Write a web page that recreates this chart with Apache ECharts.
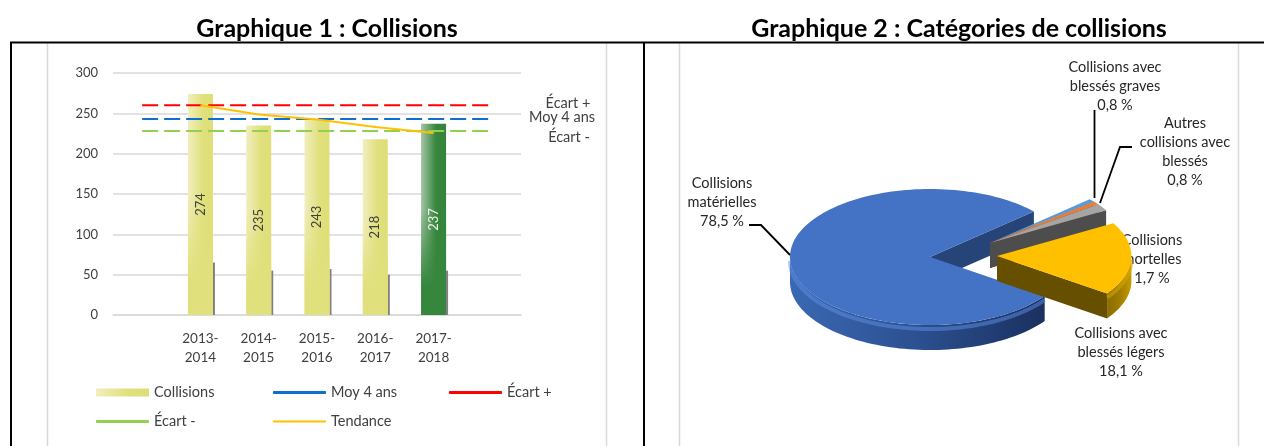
<!DOCTYPE html>
<html>
<head>
<meta charset="utf-8">
<title>Collisions</title>
<style>html,body{margin:0;padding:0;background:#fff}#chart{width:1264px;height:446px}</style>
<script src="https://cdn.jsdelivr.net/npm/echarts@6/dist/echarts.min.js"></script>
</head>
<body>
<div id="chart"></div>
<script>
// graphique 1
var years = ['', '2013-\n2014', '2014-\n2015', '2015-\n2016', '2016-\n2017', '2017-\n2018', ''];
var collisions = [null, 274, 235, 243, 218, 237, null];
var barShadow = [null, 65, 55, 57, 50, 55, null];
var moy4ans = [243, 243, 243, 243, 243, 243, 243];
var ecartPlus = [260, 260, 260, 260, 260, 260, 260];
var ecartMoins = [228, 228, 228, 228, 228, 228, 228];
var tendance = [null, 260, 248.5, 242.3, 233, 225.7, null];
var yTicks = { min: 0, max: 300, interval: 50 };

// graphique 2
var pieNames = ['Collisions\nmatérielles', 'Collisions avec\nblessés graves', 'Autres\ncollisions avec\nblessés', 'Collisions\nmortelles', 'Collisions avec\nblessés légers'];
var pieValues = [78.5, 0.8, 0.8, 1.7, 18.1];

var FONT = 'Lato';
var TXT = '#404040';

// styles of the 3d pie, same order as pieNames
var pieTop = ['#4472c4', '#5b9bd5', '#ed7d31', '#a5a5a5', '#ffc000'];
var pieInner = ['#264478', '#255e91', '#843c0c', '#4d4d4d', '#665000'];
var pieWall = [
	['#3a68b4', '#2c5090', '#1a3060'],
	['#255e91', '#255e91', '#255e91'],
	['#843c0c', '#843c0c', '#843c0c'],
	['#4d4d4d', '#4d4d4d', '#4d4d4d'],
	['#8a6c00', '#a07d00', '#c89a00']
];
var pieRim = ['#5f8fe6', null, null, null, '#e0aa00'];
var pieOffset = [[0, 0], [60, -14], [60, -14], [60, -14], [67, -1]];
var pieScale = [1, 0.96, 0.96, 0.96, 0.96];
var pieLabelPos = [[722, 174], [1115, 58], [1185, 114], [1152, 231], [1121, 324]];
var PIE = { cx: 930, cy: 257, rx: 140, ry: 68, depth: 25, start: -35 };

var total = pieValues.reduce(function (a, b) { return a + b; }, 0);

function arc(cx, cy, rx, ry, t0, t1) {
	var pts = [], n = Math.max(2, Math.ceil(Math.abs(t0 - t1) / 2));
	for (var i = 0; i <= n; i++) {
		var t = (t0 + (t1 - t0) * i / n) * Math.PI / 180;
		pts.push([cx + rx * Math.cos(t), cy - ry * Math.sin(t)]);
	}
	return pts;
}

function renderPie(params, api) {
	var i = params.dataIndex;
	var before = 0;
	for (var k = 0; k < i; k++) before += pieValues[k];
	var t0 = PIE.start - before / total * 360;
	var t1 = t0 - api.value(0) / total * 360;
	if (t0 < -180 && t1 < -180) { t0 += 360; t1 += 360; }
	var cx = PIE.cx + pieOffset[i][0], cy = PIE.cy + pieOffset[i][1];
	var rx = PIE.rx * pieScale[i], ry = PIE.ry * pieScale[i], d = PIE.depth;
	var kids = [];

	// inner wall on the clockwise end of the slice
	var e = arc(cx, cy, rx, ry, t1, t1)[0];
	kids.push({ type: 'polygon', shape: { points: [[cx, cy], e, [e[0], e[1] + d], [cx, cy + d]] }, style: { fill: pieInner[i] } });

	// outer wall, only the part turned to the viewer
	var w0 = Math.min(t0, 0), w1 = Math.max(t1, -180);
	if (w0 > w1) {
		var up = arc(cx, cy, rx, ry, w0, w1);
		var low = arc(cx, cy + d, rx, ry, w1, w0);
		var c = pieWall[i];
		kids.push({
			type: 'polygon', shape: { points: up.concat(low) },
			style: { fill: new echarts.graphic.LinearGradient(0, 0, 1, 0, [
				{ offset: 0, color: c[0] }, { offset: 0.5, color: c[1] }, { offset: 1, color: c[2] }
			]) }
		});
		if (pieRim[i]) {
			kids.push({ type: 'polyline', shape: { points: arc(cx, cy + 4, rx, ry, w0, w1) }, style: { fill: null, stroke: pieRim[i], lineWidth: 4, opacity: 0.5 } });
		}
	}

	// top face
	kids.push({ type: 'polygon', shape: { points: [[cx, cy]].concat(arc(cx, cy, rx, ry, t0, t1)) }, style: { fill: pieTop[i] } });

	// label
	kids.push({
		type: 'text',
		style: {
			text: pieNames[i] + '\n' + api.value(0).toFixed(1).replace('.', ',') + ' %',
			x: pieLabelPos[i][0], y: pieLabelPos[i][1],
			align: 'center', verticalAlign: 'top',
			fontFamily: FONT, fontSize: 14.5, lineHeight: 19, fill: '#262626'
		}
	});
	return { type: 'group', children: kids };
}

function renderBarShadow(params, api) {
	var top = api.coord([api.value(0), api.value(1)]);
	var base = api.coord([api.value(0), 0]);
	return { type: 'rect', shape: { x: top[0] + 12.5, y: top[1], width: 2, height: base[1] - top[1] }, style: { fill: '#7f7f7f' } };
}

function hLine(x1, y1, x2, y2, color, w) {
	return { type: 'line', silent: true, shape: { x1: x1, y1: y1, x2: x2, y2: y2 }, style: { stroke: color, lineWidth: w } };
}
function leader(points) {
	return { type: 'polyline', silent: true, z: 20, shape: { points: points }, style: { fill: null, stroke: '#000', lineWidth: 1.8 } };
}
function sideText(text, x, y) {
	return { type: 'text', silent: true, style: { text: text, x: x, y: y, align: 'center', verticalAlign: 'middle', fontFamily: FONT, fontSize: 14.5, fill: TXT } };
}
function legendAt(name, left, top, extra) {
	var l = {
		data: [name], left: left, top: top, itemWidth: 53, itemHeight: 3, icon: 'roundRect',
		selectedMode: false, padding: 0,
		textStyle: { fontFamily: FONT, fontSize: 14.5, color: TXT }
	};
	for (var k in extra) l[k] = extra[k];
	return l;
}
function dashed(name, data, color) {
	return { name: name, type: 'line', data: data, symbol: 'none', silent: true, z: 5, lineStyle: { color: color, width: 2, type: [16, 6] }, itemStyle: { color: color } };
}

var yellowBar = new echarts.graphic.LinearGradient(0, 0, 1, 0, [
	{ offset: 0, color: '#f1eebd' }, { offset: 0.6, color: '#e0e07c' }, { offset: 1, color: '#dfdf78' }
]);
var greenBar = new echarts.graphic.LinearGradient(0, 0, 1, 0, [
	{ offset: 0, color: '#a3c4a5' }, { offset: 0.6, color: '#36863d' }, { offset: 1, color: '#33843a' }
]);
function fade(color0, color1) {
	return new echarts.graphic.LinearGradient(0, 0, 0, 1, [
		{ offset: 0, color: color0 }, { offset: 0.45, color: color0 }, { offset: 0.85, color: color1 }, { offset: 1, color: color1 }
	]);
}

var lastBar = 5;
var titleStyle = { fontFamily: FONT, fontWeight: 'bold', fontSize: 25, color: '#000' };
var option = {
	animation: false,
	title: [
		{ text: 'Graphique 1 : Collisions', left: 327, top: 11, textAlign: 'center', textStyle: titleStyle },
		{ text: 'Graphique 2 : Catégories de collisions', left: 958, top: 11, textAlign: 'center', textStyle: titleStyle }
	],
	grid: { left: 113, right: 743, top: 73, height: 242 },
	xAxis: {
		type: 'category', data: years,
		axisLine: { lineStyle: { color: '#d9d9d9', width: 1.5 } }, axisTick: { show: false },
		axisLabel: { interval: 0, margin: 14, lineHeight: 19, fontFamily: FONT, fontSize: 13.5, color: TXT }
	},
	yAxis: {
		type: 'value', min: yTicks.min, max: yTicks.max, interval: yTicks.interval,
		axisLine: { show: false }, axisTick: { show: false },
		axisLabel: { margin: 15, fontFamily: FONT, fontSize: 13, color: TXT },
		splitLine: { lineStyle: { color: '#d9d9d9', width: 1.5 } }
	},
	legend: [
		legendAt('Collisions', 96, 385, { itemHeight: 8, icon: 'rect' }),
		legendAt('Moy 4 ans', 273, 385),
		legendAt('Écart +', 449, 385),
		legendAt('Écart -', 96, 414),
		legendAt('Tendance', 273, 414, { itemHeight: 2 })
	],
	series: [
		{
			name: 'Collisions', type: 'bar', barWidth: 25, silent: true,
			itemStyle: { color: yellowBar },
			data: collisions.map(function (v, i) {
				return i === lastBar ? { value: v, itemStyle: { color: greenBar } } : v;
			})
		},
		{
			name: 'fondu', type: 'bar', barWidth: 25, barGap: '-100%', silent: true,
			data: collisions.map(function (v, i) {
				return { value: v, itemStyle: { color: i === lastBar ? fade('rgba(54,134,61,0)', '#36863d') : fade('rgba(224,224,124,0)', '#e0e07c') },
					label: { color: i === lastBar ? '#eef4ea' : TXT } };
			}),
			label: { show: true, position: 'inside', rotate: 90, fontFamily: FONT, fontSize: 13 }
		},
		{
			name: 'ombre', type: 'custom', silent: true, renderItem: renderBarShadow, encode: { x: 0, y: 1 },
			data: barShadow.map(function (v, i) { return [i, v]; }).filter(function (d) { return d[1] !== null; })
		},
		dashed('Moy 4 ans', moy4ans, '#0f6fd0'),
		dashed('Écart +', ecartPlus, '#ff0000'),
		dashed('Écart -', ecartMoins, '#92d050'),
		{ name: 'Tendance', type: 'line', data: tendance, symbol: 'none', silent: true, z: 6, lineStyle: { color: '#ffc000', width: 2 }, itemStyle: { color: '#ffc000' } },
		{
			name: 'categories', type: 'custom', coordinateSystem: 'none', silent: true, z: 10,
			renderItem: renderPie,
			data: pieValues.map(function (v) { return [v]; })
		}
	],
	graphic: [
		hLine(47.5, 43, 47.5, 446, '#d9d9d9', 1.5),
		hLine(606.5, 43, 606.5, 446, '#d9d9d9', 1.5),
		hLine(679.5, 43, 679.5, 446, '#d9d9d9', 1.5),
		hLine(1238.5, 43, 1238.5, 446, '#d9d9d9', 1.5),
		hLine(10, 42.5, 1264, 42.5, '#000', 2),
		hLine(11, 42, 11, 446, '#000', 2),
		hLine(644, 42, 644, 446, '#000', 2),
		sideText('Écart +', 568, 103),
		sideText('Moy 4 ans', 562, 117),
		sideText('Écart -', 569, 137),
		leader([[1094.5, 110], [1094.5, 198]]),
		leader([[1132, 147], [1120, 147], [1100, 203]]),
		leader([[749, 225], [761, 225], [790, 255]])
	]
};
option.title[0].left = 327 - 5;
option.title[1].left = 958 - 4;

var myChart = echarts.init(document.getElementById('chart'), null, { renderer: 'canvas' });
myChart.setOption(option);
</script>
</body>
</html>
